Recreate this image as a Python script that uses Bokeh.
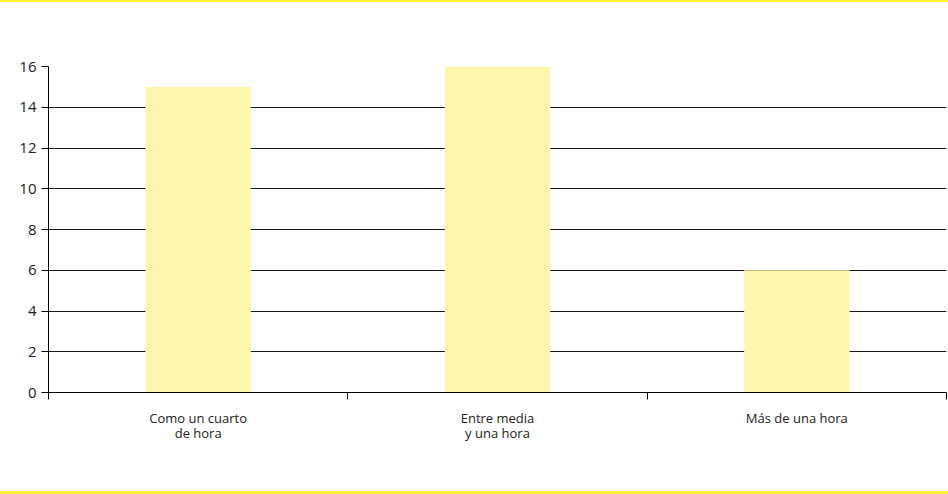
from bokeh.plotting import figure
from bokeh.models import Range1d, FixedTicker, LinearAxis, Div, ColumnDataSource
from bokeh.layouts import column
from bokeh.embed import file_html
from bokeh.resources import INLINE

categories = ["Como un cuarto\nde hora", "Entre media\ny una hora", "Más de una hora"]
values = [15, 16, 6]
y_ticks = [0, 2, 4, 6, 8, 10, 12, 14, 16]

FONT = "Open Sans"
TEXT = "#222222"

xs = [i + 0.5 for i in range(len(categories))]
src = ColumnDataSource(dict(x=xs, top=values))

p = figure(width=948, height=489, output_backend="svg", toolbar_location=None,
           x_range=Range1d(0, len(categories)), y_range=Range1d(0, 16),
           min_border_left=48, min_border_right=2, min_border_top=64, min_border_bottom=99,
           x_axis_location=None, y_axis_location=None)
p.outline_line_color = None
p.background_fill_color = "white"
p.border_fill_color = "white"

p.vbar(x="x", top="top", width=0.352, bottom=0, source=src,
       fill_color="#FFF6AD", line_color=None)

# y axis
yax = LinearAxis(ticker=FixedTicker(ticks=y_ticks))
yax.axis_line_color = "black"
yax.major_tick_line_color = "black"
yax.major_tick_out = 7
yax.major_tick_in = 0
yax.minor_tick_line_color = None
yax.major_label_text_font = FONT
yax.major_label_text_font_size = "15px"
yax.major_label_text_color = TEXT
yax.major_label_standoff = 5
p.add_layout(yax, "left")

# x axis with tick marks at boundaries
xtick_ax = LinearAxis(ticker=FixedTicker(ticks=list(range(len(categories) + 1))))
xtick_ax.major_label_text_font_size = "0px"
xtick_ax.major_label_text_alpha = 0
xtick_ax.axis_line_color = "black"
xtick_ax.major_tick_line_color = "black"
xtick_ax.major_tick_out = 7
xtick_ax.major_tick_in = 0
xtick_ax.minor_tick_line_color = None
p.add_layout(xtick_ax, "below")

# category labels (overlayed axis with no lines)
xlab_ax = LinearAxis(ticker=FixedTicker(ticks=xs),
                     major_label_overrides={x: c for x, c in zip(xs, categories)})
xlab_ax.axis_line_color = None
xlab_ax.major_tick_line_color = None
xlab_ax.minor_tick_line_color = None
xlab_ax.major_label_text_font = FONT
xlab_ax.major_label_text_font_size = "13px"
xlab_ax.major_label_text_color = TEXT
xlab_ax.major_label_standoff = 3
xlab_ax.major_label_text_line_height = 0.85
p.add_layout(xlab_ax, "below")

# grid
p.xgrid.grid_line_color = None
p.ygrid.ticker = FixedTicker(ticks=y_ticks)
p.ygrid.grid_line_color = "black"
p.ygrid.grid_line_alpha = 0.9

top_line = Div(text="", width=948, height=2, margin=0,
               styles={"background-color": "#FFF23A"})
bottom_line = Div(text="", width=948, height=3, margin=0,
                  styles={"background-color": "#FFF23A"})

layout = column(top_line, p, bottom_line, spacing=0)

open("out.html", "w").write(file_html(layout, INLINE))
